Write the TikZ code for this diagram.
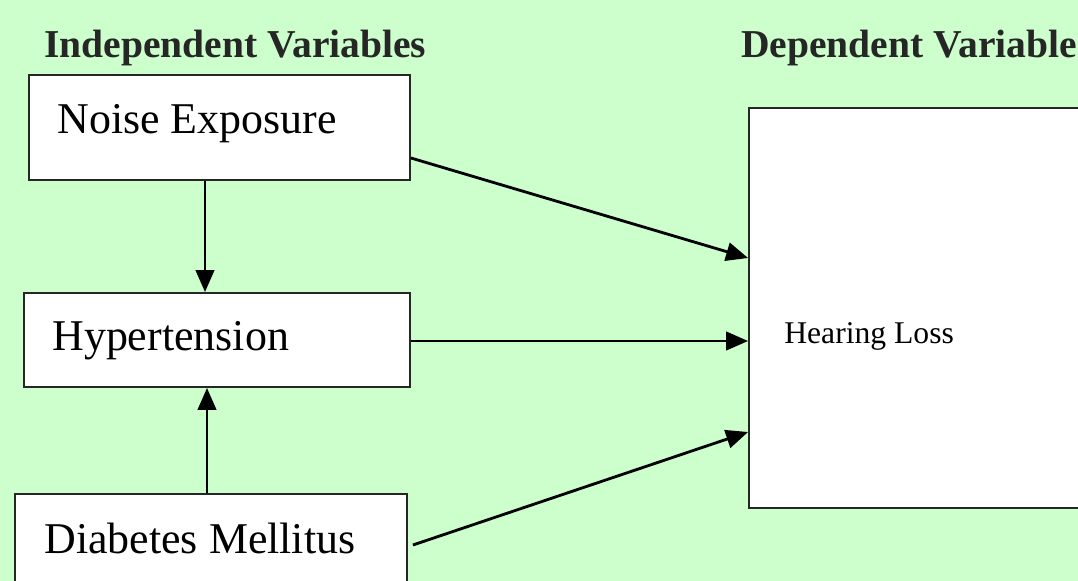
\documentclass[tikz,border=0pt]{standalone}
\usepackage{fontspec}
\setmainfont{Liberation Serif}
\usetikzlibrary{calc,arrows.meta}
\definecolor{bggreen}{HTML}{CCFFCC}
\tikzset{
	varbox/.style={draw=black!85, line width=1.1pt, fill=white, inner sep=0pt},
	vartext/.style={inner sep=0pt, anchor=base west, font=\fontsize{25}{28}\selectfont},
	headtext/.style={inner sep=0pt, anchor=base west, text=black!85, font=\bfseries\fontsize{22.5}{26}\selectfont},
	arr/.style={line width=1.6pt, -{Triangle[length=12.5pt, width=10.5pt]}}
}

\begin{document}
\begin{tikzpicture}[x=0.02cm, y=-0.02cm]
			%%%%% START %%%%%
			
			\fill[bggreen] (0, 0) rectangle (1078, 581);
			\useasboundingbox (0, 0) rectangle (1078, 581);
			\clip (0, 0) rectangle (1078, 581);
			
			\node[headtext] (indep) at (44, 58) {Independent Variables};
			\node[headtext] (dep) at (741, 58) {Dependent Variable};
			
			\node[varbox, minimum width=7.62cm, minimum height=2.1cm] (noise) at (219.5, 127.5) {};
			\node[varbox, minimum width=7.72cm, minimum height=1.88cm] (hyper) at (217, 340) {};
			\node[varbox, minimum width=7.84cm, minimum height=2.12cm] (diab) at (211, 547) {};
			\node[varbox, minimum width=7.02cm, minimum height=8cm] (hear) at (924.5, 308) {};
			
			\node[vartext] (noisetxt) at (57, 133) {Noise Exposure};
			\node[vartext] (hypertxt) at (52, 350) {Hypertension};
			\node[vartext] (diabtxt) at (44, 553) {Diabetes Mellitus};
			\node[vartext, font=\fontsize{18}{20}\selectfont] (heartxt) at (784, 343) {Hearing Loss};
			
			\draw[arr] ($(noise.east)+(0, 30.5)$) -- ($(hear.west)+(0, -50)$);
			\draw[arr] ($(hyper.east)+(0, 1)$) -- ($(hear.west)+(0, 33)$);
			\draw[arr] ($(diab.east)+(5, -2)$) -- ($(hear.west)+(0, 124)$);
			
			\draw[arr] ($(noise.south)+(-14.5, 0)$) -- ($(hyper.north)+(-12, 0)$);
			\draw[arr] ($(diab.north)+(-4, 0)$) -- ($(hyper.south)+(-10, 0)$);
			
			%%%%% END %%%%%
		\end{tikzpicture}
\end{document}
